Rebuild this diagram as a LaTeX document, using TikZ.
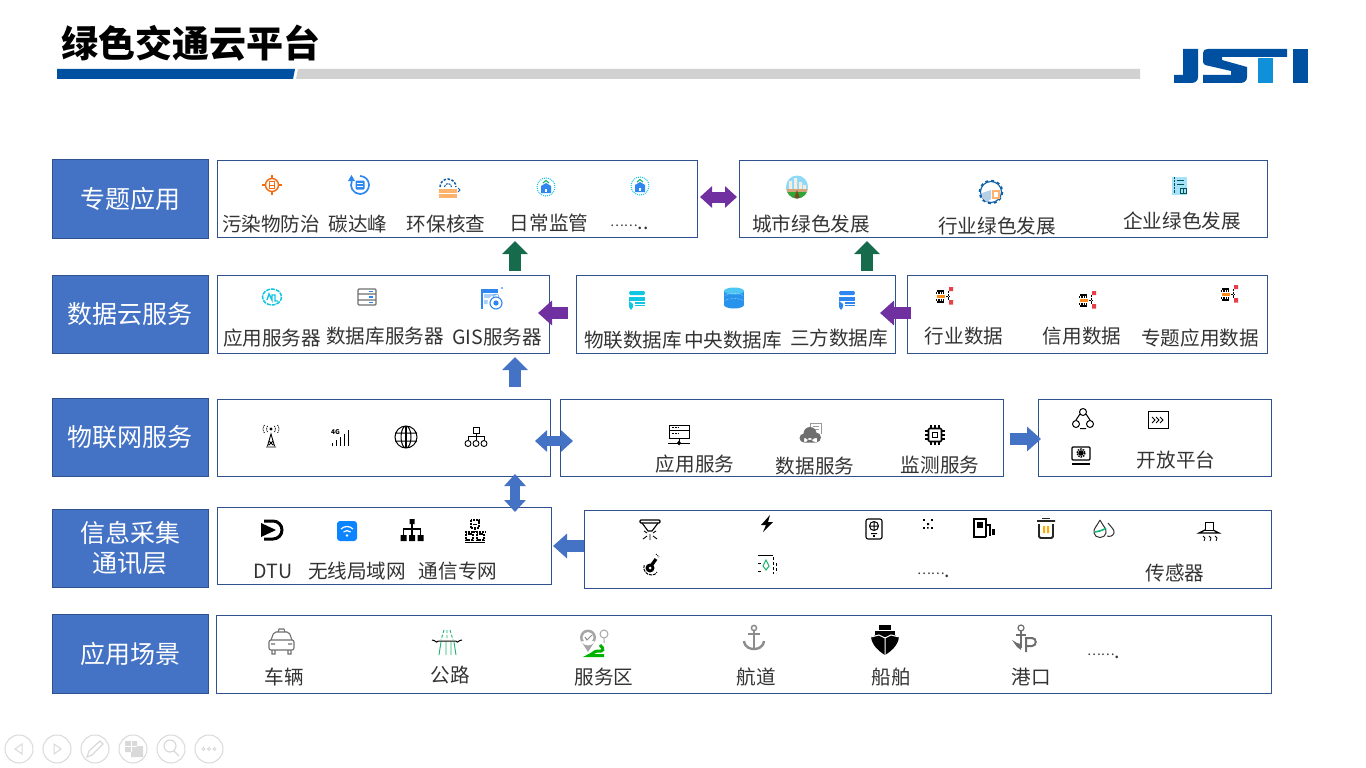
\documentclass[tikz,border=0pt]{standalone}
\usepackage{fontspec}
\setmainfont{Noto Sans CJK SC}
\usetikzlibrary{arrows.meta}
\definecolor{sidefill}{HTML}{4472C4}
\definecolor{edgeblue}{HTML}{2F528F}
\definecolor{flowpurple}{HTML}{7030A0}
\definecolor{flowgreen}{HTML}{166B4C}
\definecolor{logoblue}{HTML}{0050A2}
\definecolor{logosky}{HTML}{1090D8}
\definecolor{icorange}{HTML}{F26B0F}
\definecolor{icpeach}{HTML}{FFB26B}
\definecolor{icblue}{HTML}{2E86F0}
\definecolor{iccyan}{HTML}{12C5E0}
\definecolor{icnavy}{HTML}{1060A8}
\definecolor{icgrey}{HTML}{6E6E6E}
\definecolor{icgreen}{HTML}{19B36B}
\definecolor{icred}{HTML}{E8404A}
\definecolor{icwifi}{HTML}{0A84FF}
\definecolor{navgrey}{HTML}{D9D9D9}
\begin{document}
\begin{tikzpicture}[
  x=1pt,y=-1pt,
  sidebox/.style={
    draw=edgeblue,
    fill=sidefill,
    text=white,
    anchor=north west,
    align=center,
    minimum width=156pt,
    inner sep=0pt,
    outer sep=0pt,
    line width=.9pt,
    font=\fontsize{25}{30}\selectfont
  },
  panel/.style={
    draw=edgeblue,
    anchor=north west,
    inner sep=0pt,
    outer sep=0pt,
    line width=.9pt
  },
  lbl/.style={text=black!80,inner sep=0pt,font=\fontsize{19.6}{24}\selectfont},
  flowup/.style={
    line width=12pt,
    -{Triangle[length=13pt,width=25pt]}
  },
  flowbig/.style={
    line width=11.5pt,
    -{Triangle[length=14pt,width=24pt]}
  },
  flowboth/.style={
    line width=10pt,
    {Triangle[length=12pt,width=21pt]}-{Triangle[length=12pt,width=21pt]}
  },
  targeticon/.pic={
    \draw[icorange,line width=1.4pt] (0,0) circle[radius=6.5];
    \draw[icorange,line width=1.2pt] (-10,0) -- (-6,0) (6,0) -- (10,0) (0,-10) -- (0,-6) (0,6) -- (0,10);
    \draw[icorange] (-2.5,-3.5) rectangle (2.5,3.5) (-2.5,0) -- (2.5,0);
  },
  carbonicon/.pic={
    \draw[icblue,line width=1.7pt] (0,-9) arc (-90:205:9);
    \fill[icblue] (-8.5,-10) -- (-5,-4) -- (-12,-4) -- cycle;
    \fill[icblue,rounded corners=1pt] (-4.5,-4.5) rectangle (4.5,4.5);
    \draw[white] (-3,-1.5) -- (3,-1.5) (-3,1.5) -- (3,1.5);
  },
  envicon/.pic={
    \fill[icpeach] (-9,3) rectangle (9,12);
    \draw[white] (-9,7.5) -- (9,7.5);
    \draw[icnavy,line width=1.5pt,dash pattern=on 2.5pt off 1.5pt] (-8,1) arc (180:360:8);
    \draw[icnavy,line width=1.1pt,dash pattern=on 2pt off 1pt] (-3.5,1) arc (180:360:3.5);
    \draw[icnavy,line width=1pt] (10,2) -- (12,4) -- (10,6);
  },
  monicon/.pic={
    \draw[iccyan,densely dotted,line width=1pt] (0,0) circle[radius=9];
    \fill[icblue] (0,-4) -- (5,-1) -- (5,6) -- (-5,6) -- (-5,-1) -- cycle;
    \draw[icgreen,line width=1.1pt] (-3,-4) -- (0,-6.5) -- (3,-4);
    \fill[white] (-1,2) rectangle (1,5);
  },
  cityicon/.pic={
    \begin{scope}
      \clip (0,0) ellipse[x radius=11,y radius=11.5];
      \fill[cyan!45] (-11,-12) rectangle (11,12);
      \fill[white!85!brown] (-8,3) rectangle (-5,-6) (-3,3) rectangle (0,-9) (2,3) rectangle (5,-5) (6,3) rectangle (9,-2);
      \fill[brown!70] (-11,2) rectangle (11,5);
      \fill[green!55!black!80] (-11,5) rectangle (11,12);
      \fill[brown!60!black] (-3,12) -- (0,3) -- (3,12) -- cycle;
    \end{scope}
  },
  industryicon/.pic={
    \draw[icnavy,line width=1.1pt] (0,0) circle[radius=10.5];
    \draw[icnavy,line width=1.6pt,dash pattern=on 3pt off 3pt] (0,0) circle[radius=11.5];
    \fill[white!70!icnavy] (-9,1) -- (0,-2) -- (0,7) -- (-4,10) -- (-9,6) -- cycle;
    \fill[white] (2,-1) rectangle (8,6);
    \draw[icpeach,line width=1.1pt] (2,-1) rectangle (8,6);
  },
  buildingicon/.pic={
    \fill[cyan!35] (-8,-9) rectangle (7,9);
    \draw[black!35!teal,line width=.8pt] (-3,-6) -- (4,-6) (-3,-2) -- (4,-2) (0,2) rectangle (6,7) (3,2) -- (3,7);
    \draw[black!35!teal,densely dotted] (-6,-9) -- (-6,7);
  },
  swirlicon/.pic={
    \draw[iccyan,line width=1.5pt,dash pattern=on 4pt off 1pt] (0,0) circle[x radius=9.5,y radius=8];
    \draw[iccyan,line width=1.4pt] (-5,3) -- (-3,-3) -- (0,3) -- (0,-2) -- (3,-2) -- (3,4) -- (6,4);
  },
  serversicon/.pic={
    \draw[icgrey,line width=1.1pt,rounded corners=1pt] (-9,-8) rectangle (9,8) (-9,-3) -- (9,-3) (-9,3) -- (9,3);
    \draw[icblue,line width=1.1pt] (2,-5.5) -- (6,-5.5) (2,0) -- (6,0) (2,5.5) -- (6,5.5);
  },
  gisicon/.pic={
    \draw[icblue,line width=1.1pt] (-11,10) -- (-11,-9) -- (5,-9);
    \fill[icblue] (-11,-9) rectangle (5,-6);
    \fill[icblue!40] (-9,-5) rectangle (3,-1) (-9,1) rectangle (-5,5) (-2,1) rectangle (0,8);
    \fill[white] (2,4) circle[radius=7.5];
    \draw[icblue,line width=1.1pt] (3,4) circle[radius=6];
    \fill[icblue] (3,4) circle[radius=2.6];
    \draw[icblue] (0,-2) arc (180:360:3);
    \fill[icblue!60] (8,-12) rectangle (9.5,-10.5);
  },
  pics/dbicon/.style={code={
    \fill[#1] (-7,-8) -- (7,-8) -- (8,-6) -- (7,-4) -- (-7,-4) -- (-8,-6) -- cycle;
    \fill[#1] (-8,-2) rectangle (8,2);
    \draw[#1,line width=1.1pt] (-2,4) -- (8,4) (-2,6.5) -- (8,6.5);
    \fill[#1] (-8,2) -- (-4,5) -- (-4,8) -- (-6,11) -- (-8,8) -- cycle;
  }},
  cylicon/.pic={
    \fill[icblue!80!iccyan] (-10,-7) rectangle (10,7);
    \fill[icblue!80!iccyan] (0,7) ellipse[x radius=10,y radius=3.5];
    \fill[cyan!70] (0,-7) ellipse[x radius=10,y radius=3.5];
    \draw[white,densely dotted] (-9,-2) arc (180:0:9 and -2.5) (-9,3) arc (180:0:9 and -2.5);
  },
  dataicon/.pic={
    \draw[black,line width=1.1pt] (-6,-5) -- (1,-5) (-6,6) -- (1,6);
    \draw[black,densely dotted,line width=1.3pt] (-7,-3) -- (2,-3) (-7,4) -- (2,4);
    \fill[orange!90] (-6,-1) rectangle (2,1.5);
    \draw[black,densely dotted] (3,0) -- (6,0) (5,-5) -- (5,4);
    \fill[icred] (6,-9) rectangle (10,-5) (6,4) rectangle (10,8.5);
  },
  towericon/.pic={
    \draw[black,line width=.9pt] (-3.5,9) -- (0,-3) -- (3.5,9) (-5,10) -- (5,10) (-2,4) -- (2,8) (2,4) -- (-2,8);
    \draw[black,densely dotted,line width=.9pt] (-3.5,-11) .. controls (-5,-9) and (-5,-7) .. (-3.5,-5) (3.5,-11) .. controls (5,-9) and (5,-7) .. (3.5,-5) (-6.5,-12) .. controls (-8.5,-9) and (-8.5,-7) .. (-6.5,-4) (6.5,-12) .. controls (8.5,-9) and (8.5,-7) .. (6.5,-4);
    \fill[black] (0,-8) circle[radius=1.6];
  },
  gfouricon/.pic={
    \node[inner sep=0pt,black,font=\fontsize{6.5}{7}\bfseries\selectfont] (g4) at (-4.5,-5) {4G};
    \draw[black,line width=.8pt] (-8,9) -- (-8,6) (-4,9) -- (-4,3) (0,9) -- (0,0) (4,9) -- (4,-3) (8,9) -- (8,-7);
  },
  globeicon/.pic={
    \draw[black,line width=1pt] (0,0) circle[radius=11] (0,0) ellipse[x radius=5,y radius=11] (-11,-4) -- (11,-4) (-11,4) -- (11,4);
    \draw[black,line width=2pt] (0,-11) -- (0,11);
  },
  orgicon/.pic={
    \draw[black,line width=.9pt] (-3,-10) rectangle (3,-4) (0,-4) -- (0,-1) (-8,-1) -- (8,-1) (-8,-1) -- (-8,3) (0,-1) -- (0,3) (8,-1) -- (8,3);
    \draw[black,line width=.9pt] (-8,6.5) circle[radius=3] (0,6.5) circle[radius=3] (8,6.5) circle[radius=3];
  },
  srvlineicon/.pic={
    \draw[black,line width=1pt] (-10,-9) rectangle (10,4) (-10,-4) -- (10,-4);
    \draw[black,densely dotted] (-7,-6.5) -- (-1,-6.5) (-7,-1) -- (-1,-1);
    \draw[black,line width=1pt] (-11,9) -- (11,9) (0,4) -- (0,9);
    \fill[black] (0,6.5) -- (2,9) -- (0,11.5) -- (-2,9) -- cycle;
  },
  cloudicon/.pic={
    \draw[icgrey!70,line width=1pt] (-1,-3) -- (-1,-9) -- (10,-9) -- (10,2) (2,-6) -- (8,-6) (2,-3) -- (8,-3);
    \fill[icgrey] (-7,6) circle[radius=4.5] (-1,1.5) circle[radius=6.5] (5,5.5) circle[radius=5] (-7,6) rectangle (6,10.5);
  },
  chipicon/.pic={
    \draw[black,line width=1.6pt,rounded corners=1pt] (-6.5,-6.5) rectangle (6.5,6.5);
    \draw[black,line width=1pt] (-2.5,-2.5) rectangle (2.5,2.5);
    \foreach \p in {-4,0,4} {
      \draw[black,line width=1.1pt] (\p,-10) -- (\p,-6.5) (\p,6.5) -- (\p,10) (-10,\p) -- (-6.5,\p) (6.5,\p) -- (10,\p);
    }
  },
  triadicon/.pic={
    \draw[black,line width=1pt] (0,-7) circle[radius=3.5] (-7,5) circle[radius=3.5] (7,5) circle[radius=3.5];
    \draw[black,line width=1pt] (-7,1) -- (-3,-5) (7,1) -- (3,-5) (-3,9.5) -- (3,9.5);
  },
  fwdicon/.pic={
    \draw[black,line width=1pt] (-10,-9) rectangle (10,8);
    \draw[black,line width=.9pt] (-6,-3) -- (-3,0) -- (-6,3) (-2,-3) -- (1,0) -- (-2,3) (2,-3) -- (5,0) -- (2,3);
  },
  mongearicon/.pic={
    \draw[black,line width=1.1pt,rounded corners=1pt] (-9,-8) rectangle (9,5);
    \draw[black,line width=1.1pt] (-9,9) -- (9,9);
    \draw[black,line width=1.4pt,dash pattern=on 1.5pt off 1pt] (0,-2) circle[radius=4];
    \fill[black] (0,-2) circle[radius=2.8];
  },
  dtuicon/.pic={
    \draw[black,line width=3pt] (-8,-9) -- (1,-9) arc (-90:90:9) -- (-8,9);
    \fill[black] (-11,-7) -- (4,0) -- (-11,7) -- cycle;
  },
  wifiicon/.pic={
    \fill[icwifi,rounded corners=3pt] (-10,-10) rectangle (10,10);
    \draw[white,line width=1.2pt] (-6,-2) arc (225:315:8.5) (-3.5,1) arc (225:315:5);
    \fill[white] (0,4.5) circle[radius=1.4];
  },
  orgfillicon/.pic={
    \fill[black] (-2.5,-11) rectangle (2.5,-6) (-11.5,5) rectangle (-5.5,11) (-3,5) rectangle (3,11) (5.5,5) rectangle (11.5,11);
    \draw[black,line width=1.1pt] (0,-6) -- (0,5) (-8.5,5) -- (-8.5,-1) -- (8.5,-1) -- (8.5,5);
  },
  neticon/.pic={
    \draw[black,line width=1.1pt,dash pattern=on 2pt off .8pt] (-4,-11) rectangle (4,-3) (0,-3) -- (0,1) (-10,1) -- (10,1) (-9,3) rectangle (-2,9) (2,3) rectangle (9,9);
    \draw[black,line width=1pt] (-2,-7) -- (2,-7) (-10,11) -- (10,11);
  },
  sprinklericon/.pic={
    \draw[black,line width=1.1pt,rounded corners=1pt] (-10,-10) rectangle (10,-7);
    \draw[black,line width=1.1pt] (-8,-7) -- (-2,1) -- (2,1) -- (8,-7);
    \draw[black,line width=.9pt] (0,4) -- (0,10) (-3,3) -- (-6,1) (3,3) -- (6,1) (-3,6) -- (-7,9) (3,6) -- (7,9);
  },
  bolticon/.pic={
    \fill[black] (3,-9) -- (-6,1) -- (-1,1) -- (-4,8) -- (6,-2) -- (1,-2) -- cycle;
  },
  tableticon/.pic={
    \draw[black,line width=1.1pt,rounded corners=2pt] (-8,-10) rectangle (8,10);
    \draw[black,line width=1pt] (0,-3) circle[radius=4.5] (-4.5,-3) -- (4.5,-3) (0,-7.5) -- (0,1.5) (-3,4.5) -- (3,4.5);
    \fill[black] (-1,6) rectangle (1,8);
  },
  dotsqicon/.pic={
    \foreach \a in {-4,4} \foreach \b in {-4,4} \fill[black] (\a-1,\b-1) rectangle (\a+1,\b+1);
    \fill[black] (-1,-1) rectangle (1,1) (-1,3) rectangle (0.5,4.5);
  },
  pumpicon/.pic={
    \draw[black,line width=1.2pt] (-11,9) -- (2,9) (-10,9) -- (-10,-9) -- (2,-9) -- (2,9);
    \fill[black] (-7,-6) rectangle (-1,0);
    \draw[black,line width=1.1pt] (2,-3) -- (6,-3) -- (6,8);
    \fill[black] (8,1) rectangle (11,7);
  },
  binicon/.pic={
    \draw[black!85,line width=1.9pt,rounded corners=1.5pt] (-9,-8) -- (9,-8) (-7,-5) -- (-7,9) -- (7,9) -- (7,-5);
    \draw[black!85,line width=1.1pt] (-4,-10.5) -- (4,-10.5);
    \fill[orange!65!yellow] (-3,-3) rectangle (-1,4) (1,-3) rectangle (3,4);
  },
  dropsicon/.pic={
    \draw[black!80,line width=1pt] (-4,-9) .. controls (-7,-3) and (-11,0) .. (-10,4) .. controls (-9,10) and (1,10) .. (2,4) .. controls (3,0) and (-1,-3) .. (-4,-9);
    \draw[black!80,line width=1pt] (4,-6) .. controls (7,-2) and (11,1) .. (10,4) .. controls (9,7) and (6,8) .. (3,7);
    \draw[icgreen!90!cyan,line width=1.6pt] (-9,3) .. controls (-5,2) and (-2,2) .. (2,-1);
  },
  showericon/.pic={
    \draw[black,line width=1pt] (-4,-9) rectangle (4,-1);
    \draw[black,line width=1.2pt] (-4,-1) -- (-10,2) -- (10,2) -- (4,-1);
    \draw[black,line width=.8pt] (-6,5) -- (-4,7) -- (-5,10) (0,5) -- (2,7) -- (1,10) (6,5) -- (8,7) -- (7,10);
  },
  metericon/.pic={
    \fill[black] (-1,3) circle[radius=4.5];
    \draw[black,line width=3.2pt] (0,1) -- (5,-6);
    \fill[white] (-1,3) circle[radius=1.5];
    \draw[black,line width=1pt,dash pattern=on 3pt off 1pt] (-7,0) .. controls (-8,6) and (-5,10) .. (1,10) .. controls (3,10) and (5,9) .. (6,7);
    \draw[black,line width=1pt,densely dotted] (5,-11) -- (8,-8);
  },
  dashboxicon/.pic={
    \draw[black,line width=.8pt] (-8,-10) -- (7,-10);
    \draw[black,densely dashed,line width=.9pt] (-8,-2) -- (-4,-2) (-8,6) -- (-4,6) (7,-8) -- (7,9) (10,-2) -- (10,8);
    \draw[icgreen,line width=1pt] (0,-5) -- (3,1) -- (0,5) -- (-3,1) -- cycle;
  },
  caricon/.pic={
    \draw[icgrey,line width=1.1pt,rounded corners=2pt] (-12,-1) rectangle (13,9);
    \draw[icgrey,line width=1.1pt,rounded corners=2pt] (-10,-1) -- (-7,-9) -- (8,-9) -- (11,-1);
    \draw[icgrey,line width=1.1pt] (-3,-9) -- (-2,-12) -- (3,-12) -- (4,-9) (-10,3) -- (-6,3) (7,3) -- (11,3) (-9,9) -- (-9,13) -- (-6,13) -- (-6,9) (7,9) -- (7,13) -- (10,13) -- (10,9);
  },
  roadicon/.pic={
    \draw[icgreen,densely dashed,line width=.9pt] (-3,-13) -- (-6,-3) (3,-13) -- (6,-3) (0,-13) -- (0,-3);
    \draw[black,line width=1pt] (-15,-3) .. controls (-11,-3) and (-11,1) .. (-9,-2) -- (9,-2) .. controls (11,1) and (11,-3) .. (15,-3);
    \draw[icgreen,line width=.9pt] (-6,-1) -- (-8,12) (-1,-1) -- (-1,12) (4,-1) -- (4,12) (7,-1) -- (9,12);
  },
  pinicon/.pic={
    \fill[black!35] (-7,-5.5) circle[radius=8] (-14,-2) -- (-7,9) -- (0,-2) -- cycle;
    \fill[white] (-7,-5.5) circle[radius=5.5];
    \draw[black!45,line width=1pt] (-10,-6) -- (-8,-3) -- (-3,-8);
    \draw[black!35,line width=1pt] (9,-9) circle[radius=4] (9,-5) -- (9,0);
    \draw[green!70!black,line width=3pt] (5,2) .. controls (10,6) and (8,9) .. (3,8) .. controls (-1,8) and (-2,11) .. (-6,12.5) -- (9,12.5);
  },
  anchoricon/.pic={
    \draw[black!45,line width=1.5pt] (0,-10) circle[radius=2.6];
    \draw[black!45,line width=2pt] (0,-7) -- (0,11) (-6,-4) -- (6,-4);
    \draw[black!45,line width=2.4pt] (-10,3) .. controls (-9,10) and (-3,11) .. (0,11) .. controls (3,11) and (9,10) .. (10,3);
  },
  shipicon/.pic={
    \fill[black] (-6,-15) rectangle (6,-10);
    \fill[black] (-10,-9) rectangle (10,-5);
    \fill[black] (-14,-3) -- (-9,-5) -- (9,-5) -- (14,-3) .. controls (13,6) and (5,12) .. (0,15) .. controls (-5,12) and (-13,6) .. (-14,-3) -- cycle;
    \draw[white,line width=1pt] (0,-3) -- (0,15) (-14,-3) -- (-6,-5) -- (0,-2) -- (6,-5) -- (14,-3);
  },
  anchorpicon/.pic={
    \draw[icgrey,line width=1.2pt] (-5,-11) circle[radius=3];
    \draw[icgrey,line width=2.2pt] (-5,-8) -- (-5,9) (-10,-4) -- (0,-4);
    \fill[icgrey] (-14,1) -- (-9,4) -- (-5,5) -- (-5,11) -- (-9,8) -- cycle;
    \draw[icgrey,line width=2pt] (0,13) -- (0,-1) -- (6,-1) .. controls (11,-1) and (11,7) .. (6,7) -- (0,7);
  }
]
\useasboundingbox (0,0) rectangle (1366,768);

% title and logo
\node[inner sep=0pt,anchor=center,font=\fontsize{37}{40}\bfseries\selectfont] (title) at (191,43) {绿色交通云平台};
\fill[logoblue] (57,69) -- (295,69) -- (293,79) -- (57,79) -- cycle;
\fill[black!18] (298,69) -- (1140,69) -- (1140,79) -- (296,79) -- cycle;
\fill[logoblue] (1183,49) -- (1198,49) -- (1198,77) .. controls (1198,81) and (1195,83) .. (1191,83) -- (1174,83) -- (1174,75) -- (1183,75) -- cycle;
\fill[logoblue] (1208,49) -- (1287,49) -- (1287,57) -- (1222,57) -- (1222,60) -- (1247,67) -- (1247,77) .. controls (1247,81) and (1244,83) .. (1240,83) -- (1203,83) -- (1203,75) -- (1231,75) -- (1231,71) -- (1205,65) .. controls (1203,64) and (1203,62) .. (1203,60) -- (1203,53) .. controls (1203,50) and (1205,49) .. (1208,49) -- cycle;
\fill[logosky] (1258,58) rectangle (1273,83);
\fill[logoblue] (1293,49) rectangle (1308,83);

% left column
\node[sidebox,minimum height=79pt] (sideapp) at (52,159) {专题应用};
\node[sidebox,minimum height=78pt] (sidecloud) at (52,275) {数据云服务};
\node[sidebox,minimum height=78pt] (sideiot) at (52,398) {物联网服务};
\node[sidebox,minimum height=78pt] (sidecollect) at (52,509) {信息采集\\通讯层};
\node[sidebox,minimum height=79pt] (sidescene) at (52,614) {应用场景};

% panels
\node[panel,minimum width=480pt,minimum height=77pt] (topicbox) at (217,160) {};
\node[panel,minimum width=528pt,minimum height=77pt] (greenbox) at (739,160) {};
\node[panel,minimum width=332pt,minimum height=78pt] (serverbox) at (217,275) {};
\node[panel,minimum width=319pt,minimum height=78pt] (dbbox) at (576,275) {};
\node[panel,minimum width=360pt,minimum height=78pt] (databox) at (907,275) {};
\node[panel,minimum width=333pt,minimum height=77pt] (netbox) at (217,399) {};
\node[panel,minimum width=443pt,minimum height=77pt] (servicebox) at (560,399) {};
\node[panel,minimum width=233pt,minimum height=77pt] (openbox) at (1038,399) {};
\node[panel,minimum width=334pt,minimum height=77pt] (linkbox) at (217,507) {};
\node[panel,minimum width=687pt,minimum height=78pt] (sensorbox) at (584,510) {};
\node[panel,minimum width=1055pt,minimum height=78pt] (scenebox) at (216,615) {};

% labels
\node[lbl] (pollution) at (271,224) {污染物防治};
\node[lbl] (carbon) at (358,224) {碳达峰};
\node[lbl] (envcheck) at (446,224) {环保核查};
\node[lbl] (daily) at (549,223) {日常监管};
\node[lbl,anchor=base west] (moretopic) at (610,229) {\raisebox{3pt}{\fontsize{13}{16}\selectfont ……}..};
\node[lbl] (city) at (811,224) {城市绿色发展};
\node[lbl] (industry) at (997,226) {行业绿色发展};
\node[lbl] (enterprise) at (1182,221) {企业绿色发展};
\node[lbl] (appserver) at (272,338) {应用服务器};
\node[lbl] (dbserver) at (385,336) {数据库服务器};
\node[lbl] (gisserver) at (497,337) {GIS服务器};
\node[lbl] (iotdb) at (633,340) {物联数据库};
\node[lbl] (centerdb) at (733,340) {中央数据库};
\node[lbl] (thirddb) at (839,338) {三方数据库};
\node[lbl] (industrydata) at (964,336) {行业数据};
\node[lbl] (creditdata) at (1082,336) {信用数据};
\node[lbl] (topicdata) at (1200,338) {专题应用数据};
\node[lbl] (appservice) at (695,464) {应用服务};
\node[lbl] (dataservice) at (815,466) {数据服务};
\node[lbl] (monitorservice) at (940,465) {监测服务};
\node[lbl] (openplat) at (1176,460) {开放平台};
\node[lbl] (dtu) at (273,571) {DTU};
\node[lbl] (wlan) at (357,571) {无线局域网};
\node[lbl] (private) at (458,571) {通信专网};
\node[lbl,anchor=base west] (moresensor) at (917,577) {\raisebox{3pt}{\fontsize{13}{16}\selectfont ……}.};
\node[lbl] (sensor) at (1175,573) {传感器};
\node[lbl] (vehicle) at (284,677) {车辆};
\node[lbl] (road) at (450,675) {公路};
\node[lbl] (servicearea) at (604,677) {服务区};
\node[lbl] (channel) at (756,677) {航道};
\node[lbl] (ship) at (891,677) {船舶};
\node[lbl] (port) at (1031,677) {港口};
\node[lbl,anchor=base west] (morescene) at (1087,658) {\raisebox{3pt}{\fontsize{13}{16}\selectfont ……}.};

% icons
\pic at (272,185) {targeticon};
\pic at (360,185) {carbonicon};
\pic at (448,186) {envicon};
\pic at (546,187) {monicon};
\pic at (640,186) {monicon};
\pic at (797,187) {cityicon};
\pic at (991,192) {industryicon};
\pic at (1180,186) {buildingicon};
\pic at (272,297) {swirlicon};
\pic at (367,297) {serversicon};
\pic at (493,299) {gisicon};
\pic at (637,299) {dbicon=iccyan};
\pic at (734,298) {cylicon};
\pic at (847,299) {dbicon=icblue};
\pic at (943,296) {dataicon};
\pic at (1086,300) {dataicon};
\pic at (1228,294) {dataicon};
\pic at (271,437) {towericon};
\pic at (340,437) {gfouricon};
\pic at (406,437) {globeicon};
\pic at (476,437) {orgicon};
\pic at (679,434) {srvlineicon};
\pic at (811,432) {cloudicon};
\pic at (935,435) {chipicon};
\pic at (1083,419) {triadicon};
\pic at (1158,420) {fwdicon};
\pic at (1081,455) {mongearicon};
\pic at (272,530) {dtuicon};
\pic at (347,531) {wifiicon};
\pic at (412,530) {orgfillicon};
\pic at (475,531) {neticon};
\pic at (650,530) {sprinklericon};
\pic at (767,524) {bolticon};
\pic at (874,529) {tableticon};
\pic at (928,524) {dotsqicon};
\pic at (984,528) {pumpicon};
\pic at (1046,529) {binicon};
\pic at (1104,529) {dropsicon};
\pic at (1209,531) {showericon};
\pic at (651,565) {metericon};
\pic at (766,565) {dashboxicon};
\pic at (281,641) {caricon};
\pic at (447,643) {roadicon};
\pic at (595,643) {pinicon};
\pic at (754,638) {anchoricon};
\pic at (885,640) {shipicon};
\pic at (1026,639) {anchorpicon};

% block arrows
\coordinate (midup) at (515,197);
\coordinate (greenup) at (867,313);
\coordinate (doublerow) at (515,441);
\coordinate (rightrow) at (515,439);
\coordinate (leftrow) at (515,546);
\draw[flowup,flowgreen,shorten <=4pt,shorten >=4pt] (serverbox.north -| midup) -- (topicbox.south -| midup);
\draw[flowup,flowgreen,shorten <=4pt,shorten >=4pt] (dbbox.north -| greenup) -- (greenbox.south -| greenup);
\draw[flowboth,flowpurple,line width=11pt,shorten <=3pt,shorten >=2pt] (topicbox.east |- midup) -- (greenbox.west |- midup);
\draw[flowbig,flowpurple,shorten <=8pt,shorten >=-11pt] (dbbox.west |- greenup) -- (serverbox.east |- greenup);
\draw[flowbig,flowpurple,shorten <=-4pt,shorten >=-15pt] (databox.west |- greenup) -- (dbbox.east |- greenup);
\draw[flowup,sidefill,shorten <=12pt,shorten >=4pt] (netbox.north -| midup) -- (serverbox.south -| midup);
\draw[flowboth,sidefill,shorten <=-15pt,shorten >=-13pt] (netbox.east |- doublerow) -- (servicebox.west |- doublerow);
\draw[flowbig,sidefill,shorten <=7pt,shorten >=-3pt] (servicebox.east |- rightrow) -- (openbox.west |- rightrow);
\draw[flowboth,sidefill,shorten <=-5pt,shorten >=-2pt] (linkbox.north -| midup) -- (netbox.south -| midup);
\draw[flowbig,sidefill,shorten >=2pt] (sensorbox.west |- leftrow) -- (linkbox.east |- leftrow);

% slide show controls
\foreach \c in {19,57,95,133,171,209} {
  \draw[navgrey,line width=1pt] (\c,749) circle[radius=14];
}
\draw[navgrey,line width=1pt] (22,744) -- (15,749) -- (22,754) -- cycle (54,744) -- (61,749) -- (54,754) -- cycle;
\draw[navgrey,line width=1.2pt] (87,757) -- (89,751) -- (100,741) -- (103,744) -- (92,755) -- cycle;
\fill[navgrey] (125,741) rectangle (137,752) (131,746) rectangle (143,757);
\draw[white,line width=.8pt] (125,746) -- (137,746) (131,741) -- (131,752);
\draw[navgrey,line width=1.2pt] (170,746) circle[radius=6] (174,751) -- (179,756);
\draw[navgrey,line width=1pt] (203.5,749) circle[radius=1.5] (209,749) circle[radius=1.5] (214.5,749) circle[radius=1.5];
\end{tikzpicture}
\end{document}
